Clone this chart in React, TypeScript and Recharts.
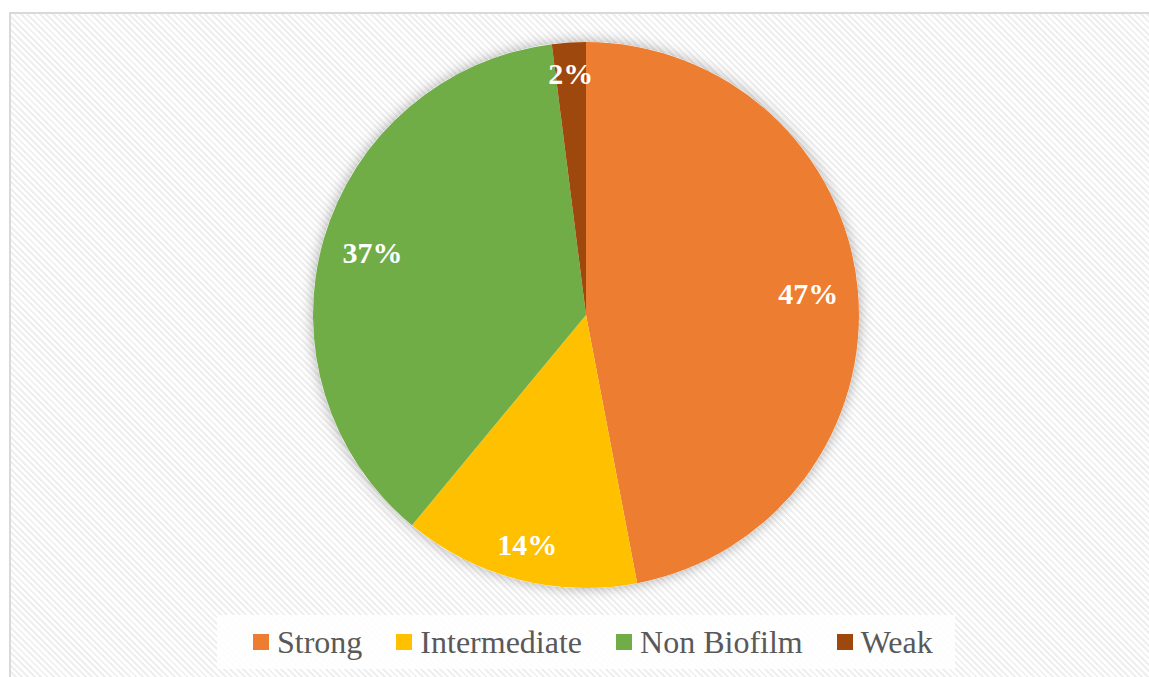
import { PieChart, Pie, Cell, Legend } from "recharts";

const categories = ["Strong", "Intermediate", "Non Biofilm", "Weak"];
const shares = [47, 14, 37, 2];
const colors = ["#ED7D31", "#FFC000", "#70AD47", "#9E480E"];

const pieData = categories.map((name, i) => ({ name, value: shares[i] }));
const backdrop = [{ name: "all", value: 1 }];

const RAD = Math.PI / 180;
const SERIF = '"Liberation Serif", "Times New Roman", serif';

interface LabelProps {
  cx?: number;
  cy?: number;
  midAngle?: number;
  outerRadius?: number;
  percent?: number;
}

// Excel style "inside end" labels: push the text box against the rim
function insideEndLabel({ cx = 0, cy = 0, midAngle = 0, outerRadius = 0, percent = 0 }: LabelProps) {
  const fs = 30;
  const text = `${Math.round(percent * 100)}%`;
  const w = ((text.length - 1) * 0.5 + 1.0) * fs;
  const h = 0.68 * fs;
  const c = Math.cos(-midAngle * RAD);
  const s = Math.sin(-midAngle * RAD);
  const d = outerRadius - 19 - (Math.abs(c) * w) / 2 - (Math.abs(s) * h) / 2;
  return (
    <text
      x={cx + d * c}
      y={cy + d * s}
      fill="#ffffff"
      textAnchor="middle"
      dominantBaseline="central"
      style={{ fontFamily: SERIF, fontSize: fs, fontWeight: 700 }}
    >
      {text}
    </text>
  );
}

interface LegendItem {
  value?: string;
  color?: string;
  type?: string;
}

function LegendBox({ payload }: { payload?: LegendItem[] }) {
  // keep the series order, not the alphabetical one
  const items = categories
    .map((name) => (payload || []).find((p) => p.value === name && p.type !== "none"))
    .filter((p): p is LegendItem => !!p);
  return (
    <div
      style={{
        width: "100%",
        height: "100%",
        background: "rgba(255,255,255,0.85)",
        display: "flex",
        alignItems: "center",
        paddingLeft: 36,
        boxSizing: "border-box",
        gap: 34,
      }}
    >
      {items.map((it) => (
        <div key={it.value} style={{ display: "flex", alignItems: "center" }}>
          <span style={{ width: 16, height: 16, background: it.color, marginRight: 8, display: "inline-block" }} />
          <span style={{ fontFamily: SERIF, fontSize: 32, color: "#595959", lineHeight: "32px" }}>{it.value}</span>
        </div>
      ))}
    </div>
  );
}

export default function App() {
  return (
    <div style={{ position: "fixed", left: 0, top: 0, width: 1149, height: 677, overflow: "hidden", background: "#ffffff" }}>
      <div
        style={{
          position: "absolute",
          left: 9,
          top: 12,
          width: 1160,
          height: 700,
          borderLeft: "2px solid #d9d9d9",
          borderTop: "2px solid #d9d9d9",
          boxSizing: "border-box",
          background:
            "repeating-linear-gradient(45deg, #efefef 0px, #efefef 2px, #ffffff 2px, #ffffff 4.5px)",
        }}
      />
      <div style={{ position: "absolute", left: 0, top: 0 }}>
        <PieChart width={1149} height={677} margin={{ top: 0, right: 0, bottom: 0, left: 0 }}>
          <defs>
            <filter id="pieGlow" x="-20%" y="-20%" width="140%" height="140%">
              <feDropShadow dx="0" dy="0" stdDeviation="7" floodColor="#000" floodOpacity="0.32" />
            </filter>
          </defs>
          <Pie
            data={backdrop}
            dataKey="value"
            cx={586}
            cy={315}
            outerRadius={273}
            stroke="none"
            legendType="none"
            isAnimationActive={false}
          >
            <Cell fill="#ffffff" filter="url(#pieGlow)" />
          </Pie>
          <Pie
            data={pieData}
            dataKey="value"
            nameKey="name"
            cx={586}
            cy={315}
            outerRadius={273}
            startAngle={90}
            endAngle={-270}
            stroke="#ffffff"
            strokeWidth={0}
            labelLine={false}
            label={insideEndLabel}
            isAnimationActive={false}
          >
            {pieData.map((d, i) => (
              <Cell key={d.name} fill={colors[i]} />
            ))}
          </Pie>
          <Legend
            content={<LegendBox />}
            wrapperStyle={{ position: "absolute", left: 217, top: 615, width: 738, height: 54, bottom: "auto" }}
          />
        </PieChart>
      </div>
    </div>
  );
}
